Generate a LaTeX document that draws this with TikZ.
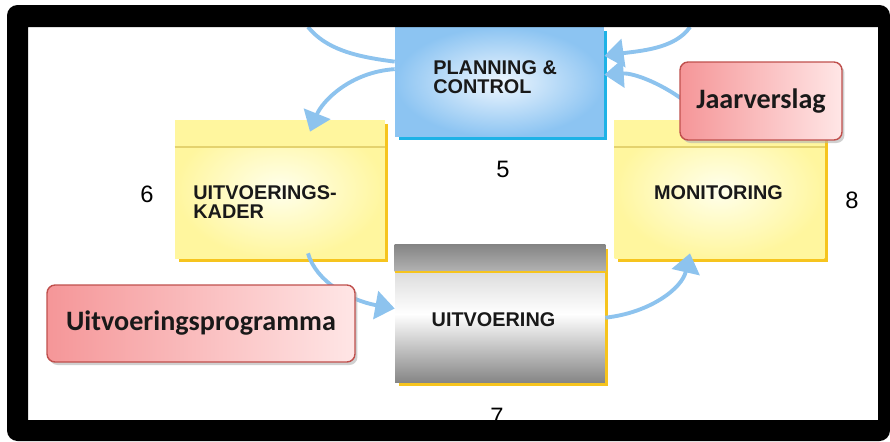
\documentclass[tikz,border=0pt]{standalone}
\usepackage{fontspec}
\setmainfont{Liberation Sans}
\newfontfamily\calibri{Carlito}
\usetikzlibrary{arrows.meta,shadows}

\definecolor{pcblue}{RGB}{140,196,242}
\definecolor{pclight}{RGB}{238,246,254}
\definecolor{pcedge}{RGB}{30,178,230}
\definecolor{kadyellow}{RGB}{255,246,158}
\definecolor{kadlight}{RGB}{255,255,236}
\definecolor{kadedge}{RGB}{246,196,30}
\definecolor{kadline}{RGB}{228,210,110}
\definecolor{tagred}{RGB}{245,150,152}
\definecolor{taglight}{RGB}{255,230,230}
\definecolor{tagedge}{RGB}{192,80,77}
\definecolor{flow}{RGB}{141,195,238}

\tikzset{
  stage/.style={minimum width=4.2cm, minimum height=2.78cm, inner sep=0pt,
    inner color=kadlight, outer color=kadyellow,
    drop shadow={shadow xshift=0.07cm, shadow yshift=-0.07cm, fill=kadedge, opacity=1}},
  pcbox/.style={minimum width=4.18cm, minimum height=2.2cm, inner sep=0pt,
    inner color=pclight, outer color=pcblue,
    drop shadow={shadow xshift=0.07cm, shadow yshift=-0.07cm, fill=pcedge, opacity=1}},
  uvbox/.style={minimum width=4.2cm, minimum height=2.76cm, inner sep=0pt,
    top color=black!22, bottom color=black!48, middle color=white,
    drop shadow={shadow xshift=0.07cm, shadow yshift=-0.07cm, fill=kadedge, opacity=1}},
  tag/.style={rounded corners=0.16cm, draw=tagedge, line width=0.8pt,
    left color=tagred, right color=taglight, inner sep=0pt,
    font=\calibri\bfseries\fontsize{16}{18}\selectfont, text=black!90,
    drop shadow={shadow xshift=0.05cm, shadow yshift=-0.06cm, fill=black!30, opacity=0.6}},
  boxtext/.style={inner sep=0pt, align=left, text=black!90,
    font=\bfseries\fontsize{11.3}{10.8}\selectfont},
  nr/.style={inner sep=0pt, anchor=base, font=\fontsize{13.5}{14}\selectfont},
  flowline/.style={draw=flow, line width=2.2pt},
  flowarrow/.style={flowline, -{Triangle[length=11pt,width=16pt]}}
}

\begin{document}
\begin{tikzpicture}[x=0.02cm, y=-0.02cm]

    \useasboundingbox (0,0) rectangle (890,441);
    \fill[white] (0,0) rectangle (890,441);

    % Nodes
    \node[pcbox] (PC) at (499.5,82) {};
    \node[stage] (KD) at (280,189.5) {};
    \node[stage] (MON) at (719.5,189.5) {};
    \node[uvbox] (UV) at (500,314) {};

    % header bands
    \fill[kadyellow] (KD.north west) rectangle ([yshift=-0.54cm]KD.north east);
    \draw[kadline, line width=1pt] ([yshift=-0.54cm]KD.north west) -- ([yshift=-0.54cm]KD.north east);
    \fill[kadyellow] (MON.north west) rectangle ([yshift=-0.54cm]MON.north east);
    \draw[kadline, line width=1pt] ([yshift=-0.54cm]MON.north west) -- ([yshift=-0.54cm]MON.north east);
    \shade[top color=black!48, bottom color=black!30] (UV.north west) rectangle ([yshift=-0.54cm]UV.north east);
    \draw[kadedge, line width=1.2pt] ([yshift=-0.54cm]UV.north west) -- ([yshift=-0.54cm]UV.north east);

    \node[boxtext, anchor=west] (PCt) at (433,77) {PLANNING \&\\CONTROL};
    \node[boxtext, anchor=west] (KDt) at (193,202) {UITVOERINGS-\\KADER};
    \node[boxtext] (MONt) at (718.5,192.5) {MONITORING};
    \node[boxtext] (UVt) at (493.5,319.5) {UITVOERING};

    \coordinate (tl) at (308,27);
    \coordinate (tr) at (690,27);

    % Arrows
    \draw[flowline] (tl) .. controls +(18,22) and +(-40,-5) .. (PC.169);
    \draw[flowarrow] (PC.173) .. controls +(-45,3) and +(12,-30) .. ([xshift=0.6cm,yshift=-0.24cm]KD.north);
    \draw[flowarrow] (tr) .. controls +(-15,22) and +(35,-5) .. (PC.14);
    \draw[flowarrow] ([xshift=-0.6cm,yshift=0.3cm]MON.north) .. controls +(-25,-20) and +(30,-2) .. (PC.4);
    \draw[flowarrow] ([xshift=0.56cm,yshift=0.12cm]KD.south) .. controls +(8,28) and +(-45,-8) .. (UV.177);
    \draw[flowarrow] (UV.358) .. controls +(45,-5) and +(-8,35) .. ([xshift=-0.59cm,yshift=0.12cm]MON.south);

    % Labels
    \node[tag, minimum width=3.24cm, minimum height=1.56cm] (JV) at (761,101) {Jaarverslag};
    \node[tag, minimum width=6.16cm, minimum height=1.54cm] (UP) at (201,323.5) {Uitvoeringsprogramma};

    \node[nr] (n5) at (503,177) {5};
    \node[nr] (n6) at (147,202) {6};
    \node[nr] (n7) at (497,424) {7};
    \node[nr] (n8) at (852,208) {8};

    % frame
    \fill[black, even odd rule] [rounded corners=6] (7,5) rectangle (890,441) [sharp corners] (28,27) rectangle (878,420);
\end{tikzpicture}
\end{document}
